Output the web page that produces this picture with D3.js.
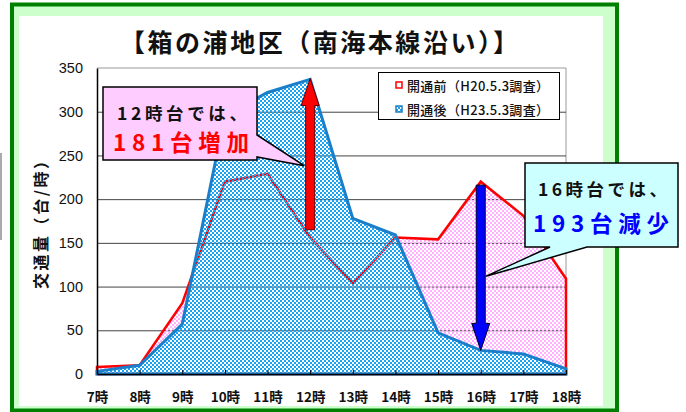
<!DOCTYPE html>
<html>
<head>
<meta charset="utf-8">
<script src="https://cdn.jsdelivr.net/npm/d3@7"></script>
<style>
  html, body { margin: 0; padding: 0; background: #fff; }
  svg { display: block; }
</style>
</head>
<body>
<div id="chart"></div>
<script>
// Values
var hours = [7, 8, 9, 10, 11, 12, 13, 14, 15, 16, 17, 18];
var beforeValues = [8, 10, 81, 220, 229, 156, 104, 156, 154, 220, 181, 109];  // 開通前
var afterValues = [3, 10, 57, 296, 322, 337, 178, 159, 47, 27, 23, 6];       // 開通後
var yTicks = [0, 50, 100, 150, 200, 250, 300, 350];
var gridTicks = [50, 100, 150, 200, 250, 300];
var seriesNames = ["開通前（H20.5.3調査）", "開通後（H23.5.3調査）"];
// the two arrows: hour, from value, to value
var arrowRed = { hour: 12, from: 165, to: 338 };
var arrowBlue = { hour: 16, from: 216, to: 27 };

(function() {
  var W = 686, H = 412;
  var jp = "'Noto Sans CJK JP', 'Noto Sans', sans-serif";

  var svg = d3.select("#chart")
    .append("svg")
    .attr("width", W)
    .attr("height", H)

  svg.append("rect").attr("width", W).attr("height", H).attr("fill", "#fff")

  // patterns for the two areas (holes are transparent)
  var defs = svg.append("defs")
  var pink = defs.append("pattern")
    .attr("id", "pinkPat")
    .attr("patternUnits", "userSpaceOnUse")
    .attr("width", 4).attr("height", 4)
  pink.append("rect").attr("x", 0).attr("y", 0).attr("width", 2).attr("height", 2).attr("fill", "#ffb0ff")
  pink.append("rect").attr("x", 2).attr("y", 2).attr("width", 2).attr("height", 2).attr("fill", "#ffb0ff")

  var blue = defs.append("pattern")
    .attr("id", "bluePat")
    .attr("patternUnits", "userSpaceOnUse")
    .attr("width", 4).attr("height", 4)
  blue.append("rect").attr("x", 0).attr("y", 0).attr("width", 2).attr("height", 2).attr("fill", "#18a4f2")
  blue.append("rect").attr("x", 2).attr("y", 2).attr("width", 2).attr("height", 2).attr("fill", "#18a4f2")

  // grey stub of a neighbouring frame at the far left
  svg.append("line")
    .attr("x1", 1).attr("x2", 1).attr("y1", 153).attr("y2", 240)
    .attr("stroke", "#aaa").attr("stroke-width", 2)

  // green frame
  svg.append("rect")
    .attr("x", 12).attr("y", 4.5).attr("width", 605).attr("height", 406)
    .attr("fill", "#ccffcc").attr("stroke", "#008000").attr("stroke-width", 4)
  svg.append("rect")
    .attr("x", 19).attr("y", 16).attr("width", 584).attr("height", 390)
    .attr("fill", "#fff")

  // title
  svg.append("text")
    .text("【箱の浦地区（南海本線沿い）】")
    .attr("x", 120).attr("y", 41)
    .attr("dominant-baseline", "central")
    .attr("textLength", 398).attr("lengthAdjust", "spacing")
    .attr("font-family", jp).attr("font-weight", "bold").attr("font-size", 25)
    .attr("fill", "#111")

  // scales
  var x = d3.scaleLinear().domain([7, 18]).range([97, 566])
  var y = d3.scaleLinear().domain([0, 350]).range([374, 68])

  // plot border (grey top and right)
  svg.append("path")
    .attr("d", "M" + x(7) + "," + y(350) + "H" + x(18) + "V" + y(0))
    .attr("fill", "none").attr("stroke", "#999").attr("stroke-width", 1)

  // gridlines
  var grid = svg.append("g")
    .attr("transform", "translate(" + x(7) + ",0)")
    .call(d3.axisLeft(y).tickValues(gridTicks).tickSize(-(x(18) - x(7))).tickFormat(""))
  grid.select(".domain").remove()
  grid.selectAll("line").attr("stroke", "#444").attr("stroke-width", 1)

  // areas
  var area = d3.area()
    .x(function(d, i) { return x(hours[i]) })
    .y0(y(0))
    .y1(function(d) { return y(d) })

  var mask = defs.append("mask").attr("id", "notBlue")
  mask.append("rect").attr("width", W).attr("height", H).attr("fill", "#fff")
  mask.append("path").attr("d", area(afterValues)).attr("fill", "#000")

  svg.append("path")
    .attr("d", area(beforeValues))
    .attr("fill", "url(#pinkPat)")
    .attr("mask", "url(#notBlue)")
  svg.append("path")
    .attr("d", area(beforeValues))
    .attr("fill", "none").attr("stroke", "#ff0000").attr("stroke-width", 2.5)
    .attr("stroke-linejoin", "miter")

  svg.append("path")
    .attr("d", area(afterValues))
    .attr("fill", "url(#bluePat)")
    .attr("stroke", "#1a7fc8").attr("stroke-width", 3)

  // axes
  var xAxis = svg.append("g")
    .attr("transform", "translate(0," + y(0) + ")")
    .call(d3.axisBottom(x).tickValues(hours).tickSize(-4).tickSizeOuter(0).tickPadding(18)
      .tickFormat(function(d) { return d + "時" }))
  xAxis.select(".domain").attr("stroke", "#000").attr("stroke-width", 1.5)
  xAxis.selectAll(".tick line").attr("stroke", "#000")
  xAxis.selectAll("text")
    .attr("font-family", jp).attr("font-weight", "bold").attr("font-size", 13.5).attr("fill", "#111")

  var yAxis = svg.append("g")
    .attr("transform", "translate(" + x(7) + ",0)")
    .call(d3.axisLeft(y).tickValues(yTicks).tickSize(0).tickSizeOuter(0).tickPadding(14))
  yAxis.select(".domain").attr("stroke", "#000").attr("stroke-width", 1.5)
  yAxis.selectAll("text")
    .attr("font-family", "'Liberation Sans', Arial, sans-serif").attr("font-size", 14.5).attr("fill", "#111")

  svg.append("text")
    .text("交通量（台/時）")
    .attr("transform", "translate(40,289) rotate(-90)")
    .attr("dominant-baseline", "central")
    .attr("textLength", 136).attr("lengthAdjust", "spacing")
    .attr("font-family", jp).attr("font-weight", "bold").attr("font-size", 16)
    .attr("fill", "#111")

  // arrows
  function arrowPath(a) {
    var cx = x(a.hour), y0 = y(a.from), y1 = y(a.to)
    var dir = y1 < y0 ? 1 : -1  // 1 = pointing up
    var shaft = 4.5, head = 9, headLen = 27
    var yb = y1 + dir * headLen
    return "M" + (cx - shaft) + "," + y0 +
      "L" + (cx - shaft) + "," + yb +
      "L" + (cx - head) + "," + yb +
      "L" + cx + "," + y1 +
      "L" + (cx + head) + "," + yb +
      "L" + (cx + shaft) + "," + yb +
      "L" + (cx + shaft) + "," + y0 + "Z"
  }
  svg.append("path").attr("d", arrowPath(arrowRed))
    .attr("fill", "#ff0000").attr("stroke", "#600").attr("stroke-width", 1)
  svg.append("path").attr("d", arrowPath(arrowBlue))
    .attr("fill", "#0000ff").attr("stroke", "#002").attr("stroke-width", 1)

  // callouts: box with a tail, then one text with two lines
  function callout(path, fill, lines) {
    svg.append("path")
      .attr("d", path)
      .attr("fill", fill).attr("stroke", "#000").attr("stroke-width", 1.5)
    var t = svg.append("text")
      .attr("font-family", jp).attr("font-weight", "bold")
      .attr("dominant-baseline", "central")
    lines.forEach(function(l) {
      t.append("tspan")
        .text(l.text)
        .attr("x", l.x).attr("y", l.y)
        .attr("textLength", l.len).attr("lengthAdjust", "spacing")
        .attr("font-size", l.size).attr("fill", l.color)
    })
  }

  var redTip = [x(arrowRed.hour) - 6, y(arrowRed.from) - 64]
  callout("M103,87H257V135L" + redTip[0] + "," + redTip[1] + "L257,157V160H103Z", "#ffccff", [
    { text: "12時台では、", x: 117, y: 111.5, len: 130, size: 17.5, color: "#111" },
    { text: "181台増加", x: 113, y: 140.5, len: 136, size: 22.5, color: "#ff0000" }
  ])

  var blueTip = [x(arrowBlue.hour) + 5, y(arrowBlue.to) - 74]
  callout("M525,163H678V247H587L" + blueTip[0] + "," + blueTip[1] + "L550,247H525Z", "#ccffff", [
    { text: "16時台では、", x: 538, y: 188, len: 129, size: 17.5, color: "#111" },
    { text: "193台減少", x: 533, y: 222, len: 136, size: 22.5, color: "#0000ff" }
  ])

  // legend
  var legend = svg.append("g")
  legend.append("rect")
    .attr("x", 378.5).attr("y", 72.5).attr("width", 181).attr("height", 47)
    .attr("fill", "#fff").attr("stroke", "#000").attr("stroke-width", 1)
  var rows = legend.selectAll(".row")
    .data(seriesNames)
    .enter().append("g")
    .attr("transform", function(d, i) { return "translate(0," + (85 + i * 24) + ")" })
  rows.append("rect")
    .attr("x", 396).attr("y", -3).attr("width", 6).attr("height", 6)
    .attr("fill", function(d, i) { return i === 0 ? "#fff" : "url(#bluePat)" })
    .attr("stroke", function(d, i) { return i === 0 ? "#ff0000" : "#1a7fc8" })
    .attr("stroke-width", 1.5)
  rows.append("text")
    .text(function(d) { return d })
    .attr("x", 407).attr("y", 0).attr("dominant-baseline", "central")
    .attr("textLength", 142).attr("lengthAdjust", "spacing")
    .attr("font-family", jp).attr("font-weight", "500").attr("font-size", 13).attr("fill", "#111")
})();
</script>
</body>
</html>
